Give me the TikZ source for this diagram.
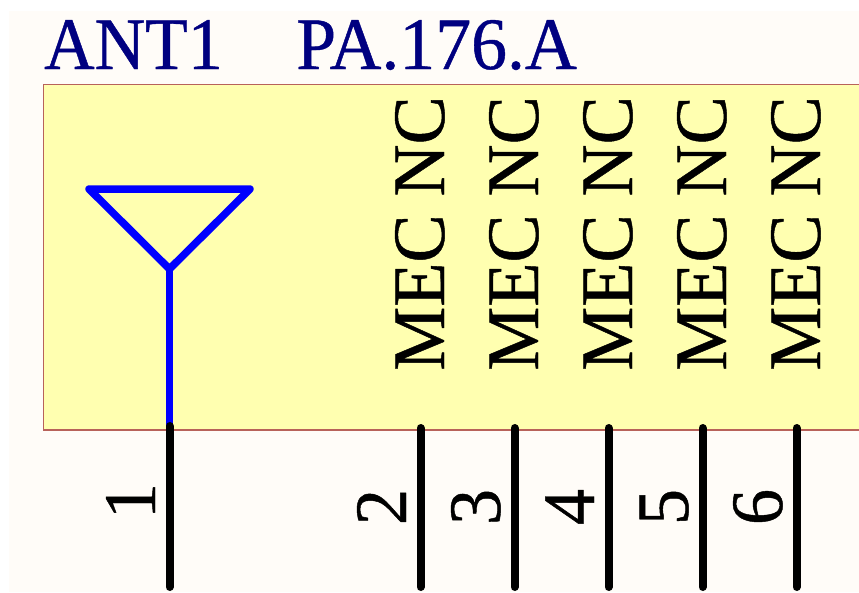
\documentclass[tikz,border=0pt]{standalone}
\usepackage{fontspec}
\setmainfont{Liberation Serif}
\newfontfamily\titlefont[FakeStretch=0.945, FakeBold=0.6]{Liberation Serif}
\newfontfamily\valuefont[FakeStretch=0.97, FakeBold=0.6]{Liberation Serif}
\newfontfamily\pinfont[FakeStretch=0.975, FakeBold=0.6]{Liberation Serif}
\definecolor{sheet}{HTML}{FFFCF8}
\definecolor{body}{HTML}{FFFFB0}
\definecolor{edge}{HTML}{B8625A}
\definecolor{title}{HTML}{000080}
\tikzset{
	partname/.style={anchor=base west, inner sep=0pt, text=title, font=\titlefont\fontsize{74}{74}\selectfont},
	partvalue/.style={anchor=base west, inner sep=0pt, text=title, font=\valuefont\fontsize{74}{74}\selectfont},
	pinname/.style={anchor=base west, inner sep=0pt, rotate=90, font=\pinfont\fontsize{74}{74}\selectfont},
	pinnum/.style={anchor=base, inner sep=0pt, rotate=90, font=\pinfont\fontsize{74}{74}\selectfont},
	pin/.style={line width=8pt, line cap=round, black},
	ant/.style={line width=7.5pt, line cap=round, line join=round, blue}
}
\begin{document}
\begin{tikzpicture}[x=1pt, y=-1pt]
	\useasboundingbox (0, 0) rectangle (859, 592);
	\fill[sheet] (9, 11) rectangle (859, 592);
	\fill[body, draw=edge, line width=1.5pt] (43.5, 84.5) rectangle (870, 430);
	\node[partname] (ANT)at(44, 69) {ANT1};
	\node[partvalue] (PA)at(296, 69) {PA.176.A};
	% antenna
	\coordinate (TL)at(89, 189);
	\coordinate (TR)at(250, 189);
	\coordinate (TIP)at(169.5, 269);
	\coordinate (P1)at(169.5, 426);
	\draw[ant] (TL) -- (TR) -- (TIP) -- cycle;
	\draw[ant] (TIP) -- (P1);
	% pin ends
	\coordinate (E1)at(169.5, 587);
	\coordinate (P2)at(420.5, 428);
	\coordinate (E2)at(420.5, 587);
	\coordinate (P3)at(514.5, 428);
	\coordinate (E3)at(514.5, 587);
	\coordinate (P4)at(608.5, 428);
	\coordinate (E4)at(608.5, 587);
	\coordinate (P5)at(702.5, 428);
	\coordinate (E5)at(702.5, 587);
	\coordinate (P6)at(796.5, 428);
	\coordinate (E6)at(796.5, 587);
	\draw[pin] (P1) -- (E1);
	\draw[pin] (P2) -- (E2);
	\draw[pin] (P3) -- (E3);
	\draw[pin] (P4) -- (E4);
	\draw[pin] (P5) -- (E5);
	\draw[pin] (P6) -- (E6);
	% names
	\node[pinname] (N2)at(444, 371) {MEC NC};
	\node[pinname] (N3)at(538, 371) {MEC NC};
	\node[pinname] (N4)at(632, 371) {MEC NC};
	\node[pinname] (N5)at(726, 371) {MEC NC};
	\node[pinname] (N6)at(820, 371) {MEC NC};
	% numbers
	\node[pinnum] (D1)at(155, 501) {1};
	\node[pinnum] (D2)at(406, 507) {2};
	\node[pinnum] (D3)at(500, 507) {3};
	\node[pinnum] (D4)at(594, 507) {4};
	\node[pinnum] (D5)at(688, 507) {5};
	\node[pinnum] (D6)at(782, 507) {6};
\end{tikzpicture}
\end{document}
